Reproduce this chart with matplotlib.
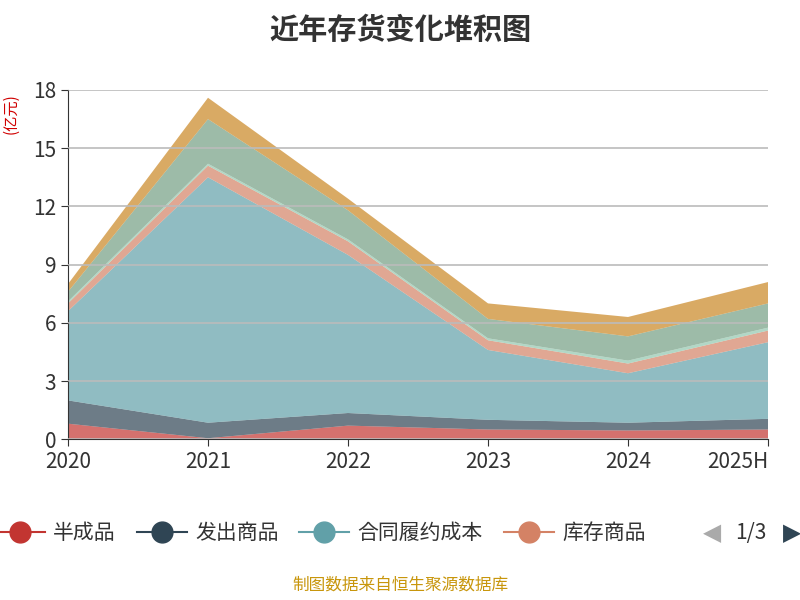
import numpy as np
import matplotlib.pyplot as plt
from matplotlib import font_manager
from matplotlib.lines import Line2D

cjk = [f.name for f in font_manager.fontManager.ttflist if "CJK" in f.name]
cjk_name = next((n for n in cjk if "SC" in n), cjk[0] if cjk else "DejaVu Sans")
plt.rcParams["font.family"] = [cjk_name, "DejaVu Sans"]

years = ["2020", "2021", "2022", "2023", "2024", "2025H"]
names = ["半成品", "发出商品", "合同履约成本", "库存商品", "委托加工物资", "原材料", "在产品"]
colors = ["#c23531", "#2f4554", "#61a0a8", "#d48265", "#91c7ae", "#749f83", "#ca8622"]

# values read as stack boundaries, then differenced
tops = np.array([
    [0.8, 0.05, 0.7, 0.5, 0.45, 0.5],
    [2.0, 0.85, 1.35, 1.0, 0.85, 1.05],
    [6.6, 13.5, 9.5, 4.6, 3.4, 5.0],
    [7.0, 14.1, 10.2, 5.1, 3.9, 5.6],
    [7.1, 14.2, 10.3, 5.2, 4.05, 5.75],
    [7.6, 16.5, 11.8, 6.2, 5.3, 7.0],
    [8.0, 17.6, 12.4, 7.0, 6.3, 8.1],
])
values = np.diff(np.vstack([np.zeros(6), tops]), axis=0)

fig = plt.figure(figsize=(8, 6), dpi=100)
ax = fig.add_axes([0.085, 0.268, 0.875, 0.582])
x = np.arange(len(years))
ax.stackplot(x, values, colors=colors, alpha=0.7, linewidth=0, zorder=2)
ax.set_xlim(0, len(years) - 1)
ax.set_ylim(0, 18)
ax.set_yticks(range(0, 19, 3))
ax.set_xticks(x, years)
ax.grid(axis="y", color="#bbbbbb", linewidth=1.2, zorder=3)
ax.set_axisbelow(False)
for s in ["top", "right"]:
    ax.spines[s].set_visible(False)
ax.spines["left"].set_color("#333333")
ax.spines["bottom"].set_color("#333333")
ax.tick_params(labelsize=15, colors="#333333", length=5)
ax.get_xticklabels()[-1].set_horizontalalignment("right")
ax.get_xticklabels()[-1].set_x(0)
fig.text(0.003, 0.81, "(亿元)", color="#d00000", fontsize=11, rotation=90, va="center")
fig.suptitle("近年存货变化堆积图", fontsize=21, fontweight="bold", color="#333333", y=0.975)

handles = [Line2D([0], [0], color=c, marker="o", markersize=15, linewidth=1.5)
           for c in colors[:4]]
leg = fig.legend(handles, names[:4], loc="center left", bbox_to_anchor=(-0.03, 0.112),
                 ncol=4, frameon=False, fontsize=15, handlelength=2.4,
                 columnspacing=1.0, handletextpad=0.4)
for t in leg.get_texts():
    t.set_color("#333333")
fig.patches.append(plt.Rectangle((0.855, 0.06), 0.145, 0.1, transform=fig.transFigure,
                                 color="white", zorder=10))
fig.text(0.89, 0.112, "◀", color="#aaaaaa", fontsize=17, ha="center", va="center", zorder=11,
         family="DejaVu Sans")
fig.text(0.938, 0.112, "1/3", color="#333333", fontsize=15, ha="center", va="center", zorder=11)
fig.text(0.99, 0.112, "▶", color="#2f4554", fontsize=17, ha="center", va="center", zorder=11,
         family="DejaVu Sans")
fig.text(0.5, 0.018, "制图数据来自恒生聚源数据库", color="#c8960c", fontsize=12, ha="center")
fig.savefig("out.png")
